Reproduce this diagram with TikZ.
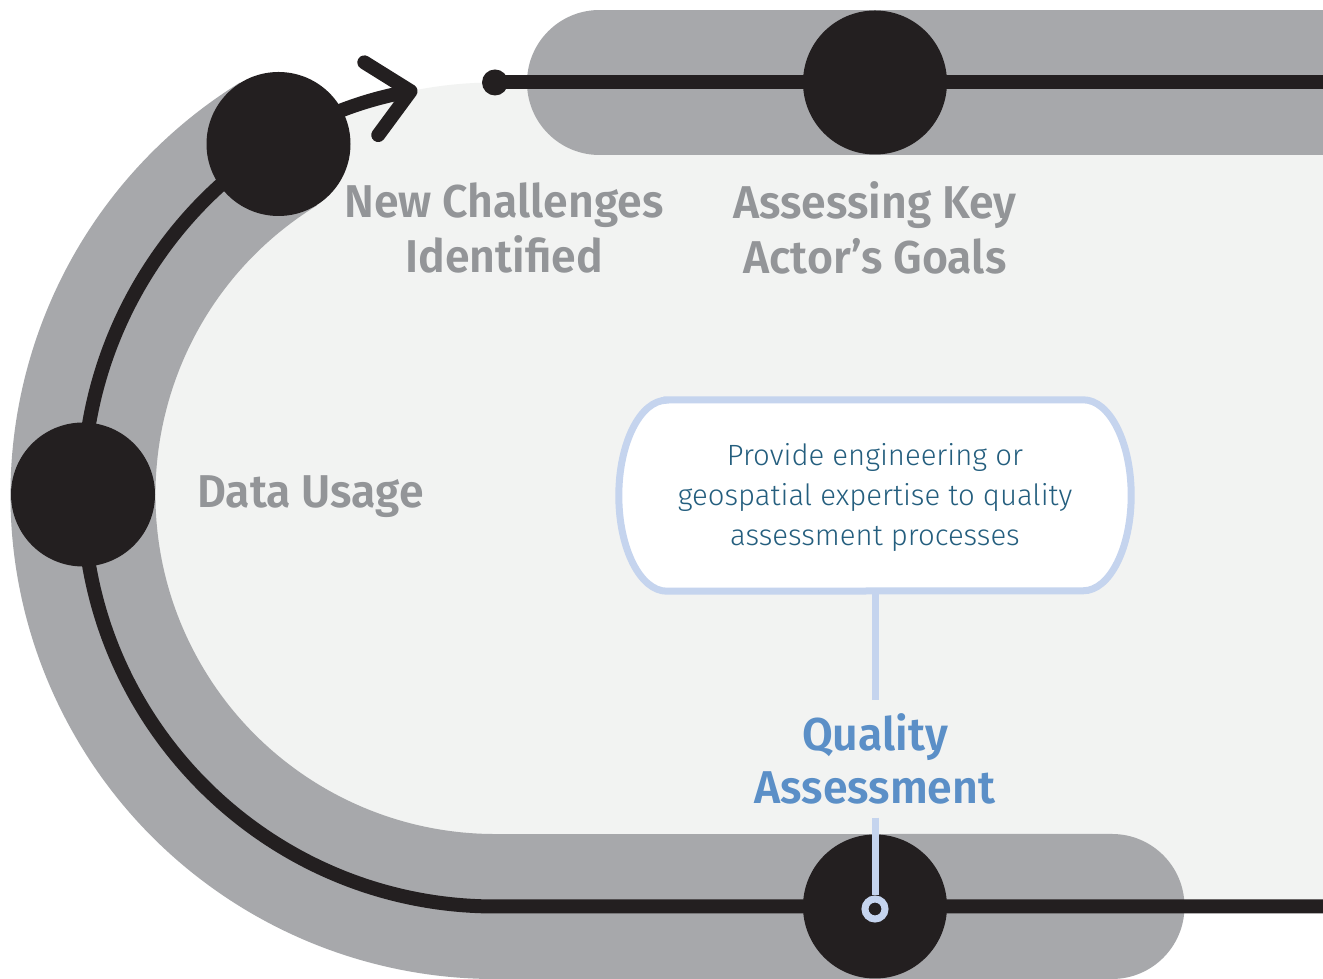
\documentclass[tikz,border=0pt]{standalone}
\usepackage{fontspec}
\setmainfont{Fira Sans}
\newfontfamily\labfont{Fira Sans SemiBold}[FakeStretch=0.97]
\newfontfamily\txtfont{Fira Sans Light}
\usetikzlibrary{arrows.meta}
\definecolor{lightfill}{HTML}{F2F3F2}
\definecolor{bandgray}{HTML}{A7A8AB}
\definecolor{trackblack}{HTML}{231F20}
\definecolor{labelgray}{HTML}{939598}
\definecolor{qablue}{HTML}{5B8FC7}
\definecolor{boxtext}{HTML}{245E7E}
\definecolor{linkblue}{HTML}{C5D4EE}
\pgfdeclarelayer{front}
\pgfsetlayers{main,front}
\begin{document}
\begin{tikzpicture}[x=1pt,y=1pt,
  track/.style={draw=trackblack, line width=14pt},
  band/.style={draw=bandgray, line width=145pt},
  bignode/.style={circle, fill=trackblack, minimum size=144pt, inner sep=0pt},
  enddot/.style={circle, fill=trackblack, minimum size=26pt, inner sep=0pt},
  ring/.style={circle, draw=linkblue, line width=7pt, fill=trackblack, minimum size=20pt, inner sep=0pt},
  lab/.style={text=labelgray, font=\labfont\fontsize{46}{55}\selectfont, align=center, inner sep=0pt},
  qalab/.style={text=qablue, font=\labfont\fontsize{46}{53}\selectfont, align=center, inner sep=13pt},
  boxtxt/.style={text=boxtext, font=\txtfont\fontsize{29.3}{40}\selectfont, align=center, minimum width=512pt, minimum height=191pt, inner sep=0pt},
  boxline/.style={draw=linkblue, line width=7pt, fill=white},
  link/.style={draw=linkblue, line width=7pt}]
\useasboundingbox (0,0) rectangle (1323,979);
\clip (0,0) rectangle (1323,979);
\fill[white] (0,0) rectangle (1323,979);
% light interior
\fill[lightfill] (495,72.5) arc[start angle=-90, end angle=-270, radius=412] -- (1330,896.5) -- (1330,72.5) -- cycle;
% gray bands
\draw[band] (278.5,835) arc[start angle=121.7, end angle=270, radius=412] -- (1112,72.5);
\fill[bandgray] (1112,72.5) circle[radius=72.5];
\draw[band, line cap=round] (599.5,896.5) -- (1400,896.5);
% tracks
\coordinate (rb) at (1340,72.5);
\coordinate (rt) at (1340,896.5);
\node[enddot] (dot) at (495,896.5) {};
\draw[track, -{Straight Barb[length=40pt,width=74pt,round]}] (rb) -- (495,72.5) arc[start angle=270, end angle=100.85, radius=412];
\draw[track] (dot.center) -- (rt);
% stage nodes
\node[bignode] (nc) at (278.5,835) {};
\node[bignode] (du) at (83,484.5) {};
\node[bignode] (akg) at (875,896.5) {};
\node[bignode] (qa) at (875,72.5) {};
% labels
\node[lab] (l1) at (504,751.5) {New Challenges\\Identified};
\node[lab] (l2) at (875,751.5) {Assessing Key\\Actor’s Goals};
\node[lab, anchor=base west] (l3) at (197,471) {Data Usage};
% box
\begin{pgfonlayer}{front}
\node[boxtxt] (box) at (875,481.5) {Provide engineering or\\geospatial expertise to quality\\assessment processes};
\end{pgfonlayer}
\draw[boxline] ([xshift=48pt,yshift=2pt]box.north west) -- ([xshift=-48pt,yshift=2pt]box.north east)
  arc[start angle=90, end angle=-90, x radius=48, y radius=95.5]
  -- ([xshift=48pt,yshift=2pt]box.south west)
  arc[start angle=270, end angle=90, x radius=48, y radius=95.5] -- cycle;
\node[qalab] (qal) at (875,220) {Quality\\Assessment};
\node[ring] (ring) at (875,70) {};
\draw[link] ([yshift=2pt]box.south) -- (qal);
\draw[link] (qal) -- (ring);
\end{tikzpicture}
\end{document}
